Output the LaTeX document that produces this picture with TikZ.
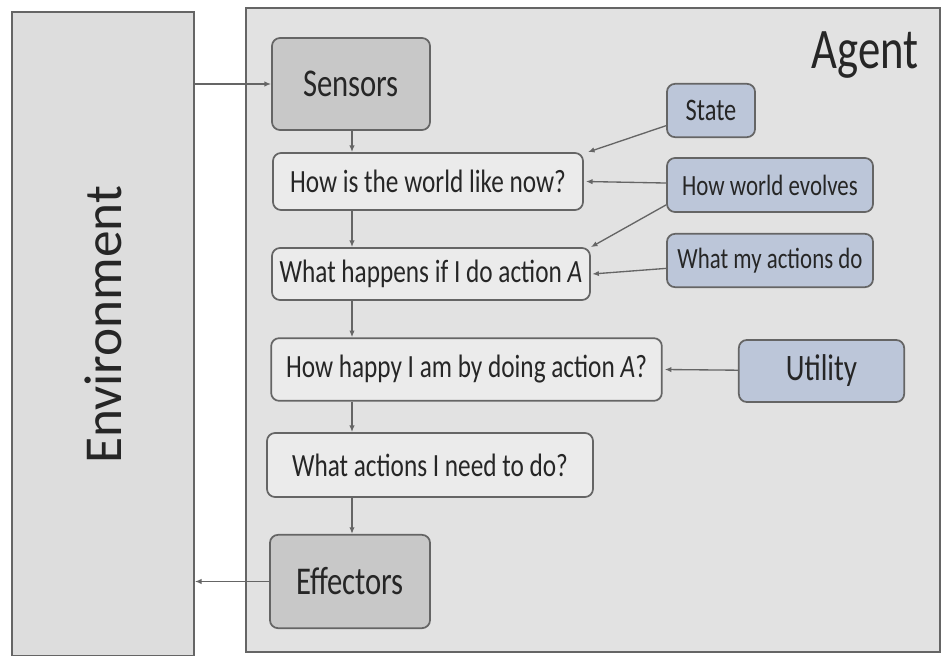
\documentclass[tikz,border=0pt]{standalone}
\usepackage{fontspec}
\setmainfont[FakeStretch=0.78]{Carlito}
\newfontfamily\envfont{Carlito}
\usetikzlibrary{arrows.meta,positioning}

\definecolor{panelgray}{HTML}{E2E2E2}
\definecolor{envgray}{HTML}{DDDDDD}
\definecolor{darkgray}{HTML}{C8C8C8}
\definecolor{lightbox}{HTML}{EBEBEB}
\definecolor{bluebox}{HTML}{BCC6D9}
\definecolor{edgegray}{HTML}{656565}
\definecolor{textgray}{HTML}{262626}

\tikzset{
  box/.style={draw=edgegray, line width=1.3pt, rounded corners=6pt, text=textgray,
              inner sep=0pt, align=center},
  hw/.style={box, fill=darkgray, font=\fontsize{29.5}{33}\selectfont},
  question/.style={box, fill=lightbox, font=\fontsize{24.3}{27}\selectfont},
  info/.style={box, fill=bluebox, font=\fontsize{22}{25}\selectfont},
  flow/.style={draw=edgegray, line width=1pt, -{Latex[length=5pt,width=4pt]}}
}

\begin{document}
\begin{tikzpicture}[x=0.75pt,y=-0.75pt]
        \useasboundingbox[fill=white] (0,0) rectangle (943,656);

        \node at (103,334) (Env) [draw=edgegray, line width=1.3pt, fill=envgray,
              minimum width=136.5pt, minimum height=483pt] {};
        \node at (103,325) [rotate=90, text=textgray, font=\envfont\fontsize{40}{44}\selectfont] {Environment};
        \node at (593,330) (Agent) [draw=edgegray, line width=1.3pt, fill=panelgray,
              minimum width=520.5pt, minimum height=483pt] {};
        \node at (865,55) [text=textgray, font=\fontsize{43}{46}\selectfont] {Agent};

        \coordinate (spine) at (352,0);

        \node at (351,84) (Sensors) [hw, minimum width=118.5pt, minimum height=69pt] {Sensors};
        \node at (428,181.5) (HowNow) [question, minimum width=232.5pt, minimum height=42.75pt] {How is the world like now?};
        \node at (431,274) (Happens) [question, minimum width=238.5pt, minimum height=39pt] {What happens if I do action \textit{A}};
        \node at (466.5,369.5) (Happy) [question, minimum width=293pt, minimum height=47pt] {How happy I am by doing action \textit{A}?};
        \node at (430,465) (Todo) [question, minimum width=244.5pt, minimum height=48pt] {What actions I need to do?};
        \node at (350,581.5) (Effectors) [hw, minimum width=120pt, minimum height=70pt] {Effectors};

        \node at (711,110.5) (State) [info, minimum width=66pt, minimum height=40pt,
              font=\fontsize{23.5}{26}\selectfont] {State}
              edge[flow] ([xshift=3pt]HowNow.north east);
        \node at (770,185) (Evolves) [info, minimum width=154.5pt, minimum height=40.5pt] {How world evolves}
              edge[flow] ([xshift=1.5pt]HowNow.east);
        \draw[flow] ([yshift=6pt]Evolves.south west) -- (Happens.north east);
        \node at (770,260.5) (MyActions) [info, minimum width=154.5pt, minimum height=40pt] {What my actions do}
              edge[flow] ([xshift=1pt]Happens.east);
        \node at (821.5,371) (Utility) [info, minimum width=124pt, minimum height=46.5pt,
              font=\fontsize{28}{32}\selectfont] {Utility}
              edge[flow] ([xshift=1.5pt]Happy.east);

        % main chain down the left side
        \draw[flow] (Sensors.west -| Env.east) -- (Sensors.west);
        \draw[flow] (Sensors.south -| spine) -- (HowNow.north -| spine);
        \draw[flow] (HowNow.south -| spine) -- (Happens.north -| spine);
        \draw[flow] (Happens.south -| spine) -- (Happy.north -| spine);
        \draw[flow] (Happy.south -| spine) -- (Todo.north -| spine);
        \draw[flow] (Todo.south -| spine) -- (Effectors.north -| spine);
        \draw[flow] (Effectors.west) -- (Effectors.west -| Env.east);
    \end{tikzpicture}
\end{document}
